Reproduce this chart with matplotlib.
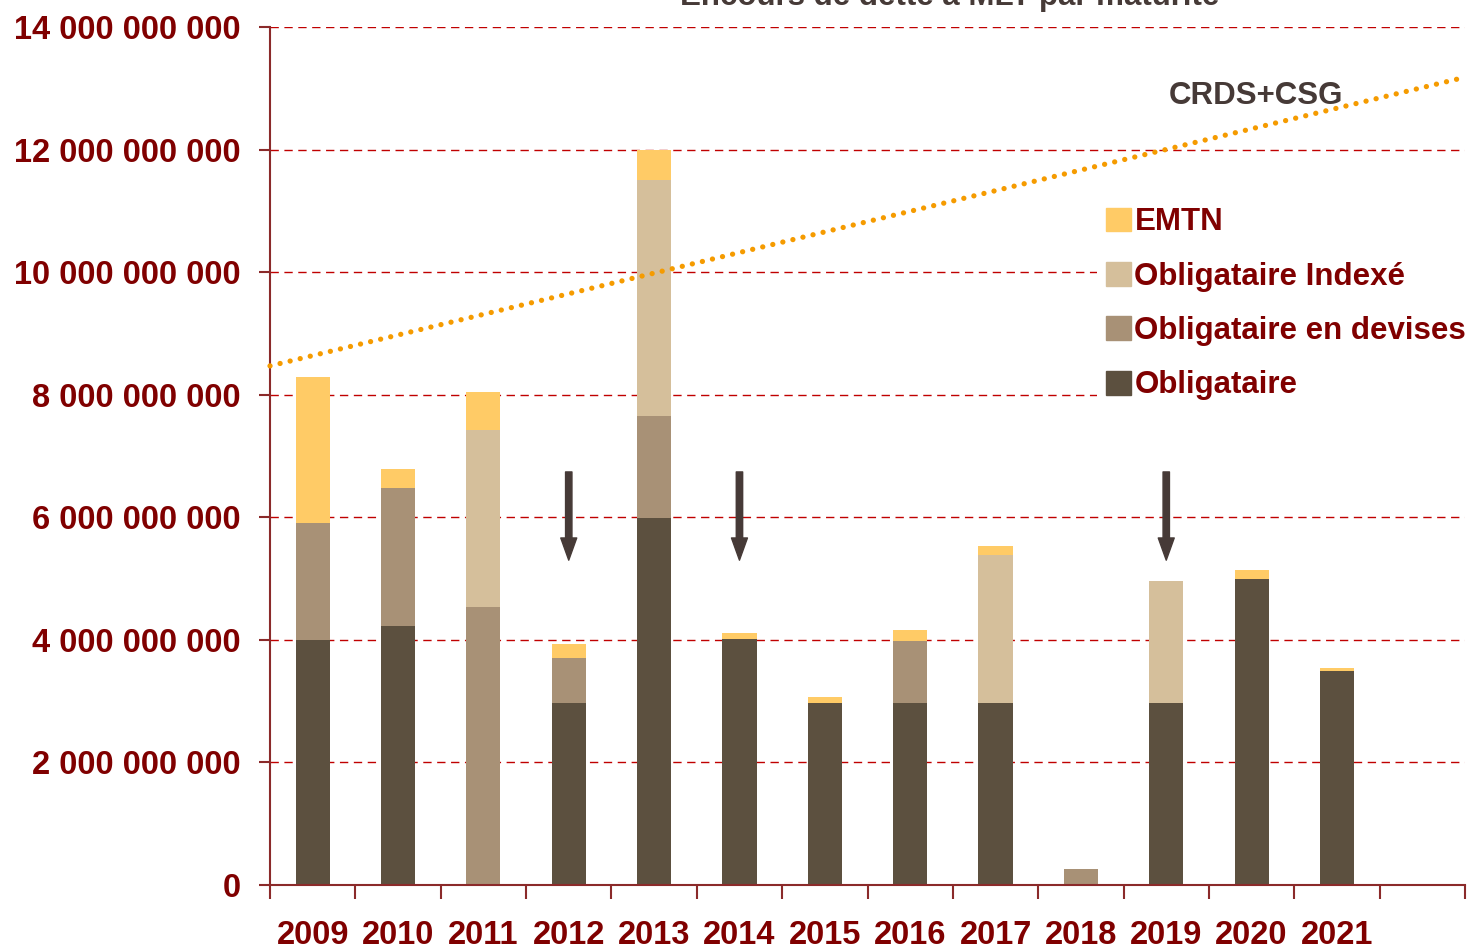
import matplotlib
matplotlib.use("Agg")
import matplotlib.pyplot as plt
import numpy as np
from matplotlib.patches import Patch

# ---- data ----
years = ['2009', '2010', '2011', '2012', '2013', '2014', '2015', '2016',
         '2017', '2018', '2019', '2020', '2021', '']
obligataire = [4.00e9, 4.22e9, 0.0, 2.97e9, 5.99e9, 4.01e9, 2.97e9, 2.97e9,
               2.97e9, 0.0, 2.97e9, 4.99e9, 3.49e9, 0.0]
oblig_devises = [1.90e9, 2.26e9, 4.54e9, 0.73e9, 1.66e9, 0.0, 0.0, 1.01e9,
                 0.0, 0.26e9, 0.0, 0.0, 0.0, 0.0]
oblig_indexe = [0.0, 0.0, 2.88e9, 0.0, 3.85e9, 0.0, 0.0, 0.0,
                2.41e9, 0.0, 1.99e9, 0.0, 0.0, 0.0]
emtn = [2.39e9, 0.31e9, 0.62e9, 0.23e9, 0.49e9, 0.10e9, 0.10e9, 0.18e9,
        0.15e9, 0.0, 0.0, 0.15e9, 0.05e9, 0.0]
crds_csg = [8.47e9, 13.18e9]          # trend line values at left / right edge
arrow_years = ['2012', '2014', '2019']
arrow_from = 6.74e9
arrow_to = 5.30e9
yticks = np.arange(0, 14.01e9, 2e9)

# ---- style ----
c_oblig = '#5C503F'
c_dev = '#A89176'
c_idx = '#D5BF9B'
c_emtn = '#FFCB66'
c_text = '#800000'
c_dark = '#463A37'
c_spine = '#8B2A2A'
c_grid = '#C00000'
plt.rcParams['font.family'] = ['Liberation Sans', 'DejaVu Sans']
fs = 23.5
fs_leg = 22.5

fig = plt.figure(figsize=(14.7, 9.49), dpi=100)
ax = fig.add_axes([270/1470, (949-885)/949, (1465-270)/1470, (885-27)/949])

x = np.arange(len(years))
w = 0.4
b1 = np.array(obligataire)
b2 = b1 + np.array(oblig_devises)
b3 = b2 + np.array(oblig_indexe)
ax.bar(x, obligataire, w, color=c_oblig, zorder=2)
ax.bar(x, oblig_devises, w, bottom=b1, color=c_dev, zorder=2)
ax.bar(x, oblig_indexe, w, bottom=b2, color=c_idx, zorder=2)
ax.bar(x, emtn, w, bottom=b3, color=c_emtn, zorder=2)

ax.set_xlim(-0.5, len(years) - 0.5)
ax.set_ylim(0, 14e9)

# grid
for yv in yticks[1:]:
    ax.axhline(yv, color=c_grid, lw=1.0, ls=(0, (6, 4)), zorder=1)

# trend line
ax.plot([-0.5, len(years) - 0.5], crds_csg, color='#F59B00', lw=3.8,
        ls=(0, (0.01, 1.95)), dash_capstyle='round', zorder=3, clip_on=False)
ax.text(11.05, 12.88e9, 'CRDS+CSG', color=c_dark, fontsize=fs_leg,
        fontweight='bold', ha='center', va='center')

# arrows
for yr in arrow_years:
    xi = years.index(yr)
    ax.annotate('', xy=(xi, arrow_to), xytext=(xi, arrow_from),
                arrowprops=dict(width=4.6, headwidth=11.5, headlength=16,
                                color=c_dark, shrink=0), zorder=4)

# axes styling
for s in ['top', 'right']:
    ax.spines[s].set_visible(False)
for s in ['left', 'bottom']:
    ax.spines[s].set_color(c_spine)
    ax.spines[s].set_linewidth(1.5)

ax.set_yticks(yticks)
ax.set_yticklabels([f"{int(v):,}".replace(',', ' ') for v in yticks])
ax.tick_params(axis='y', length=8, width=1.5, color=c_spine, pad=13,
               labelsize=fs, labelcolor=c_text)
for lab in ax.get_yticklabels():
    lab.set_fontweight('bold')

ax.set_xticks(x)
ax.set_xticklabels(years)
ax.tick_params(axis='x', which='major', length=0, pad=25, labelsize=fs,
               labelcolor=c_text)
for lab in ax.get_xticklabels():
    lab.set_fontweight('bold')
ax.set_xticks(np.arange(-0.5, len(years)), minor=True)
ax.tick_params(axis='x', which='minor', length=10, width=1.5, color=c_spine)

# legend
handles = [Patch(color=c_emtn, label='EMTN'),
           Patch(color=c_idx, label='Obligataire Indexé'),
           Patch(color=c_dev, label='Obligataire en devises'),
           Patch(color=c_oblig, label='Obligataire')]
leg = ax.legend(handles=handles, loc='upper left',
                bbox_to_anchor=(1097/1470, (949-198)/949),
                bbox_transform=fig.transFigure,
                frameon=True, fancybox=False, framealpha=1,
                edgecolor='none', facecolor='white',
                handlelength=0.8, handleheight=0.8, handletextpad=0.1,
                labelspacing=0.78, borderpad=0.3, borderaxespad=0,
                prop={'size': fs_leg, 'weight': 'bold'})
leg.set_zorder(5)
for t in leg.get_texts():
    t.set_color(c_text)

# title (cut at top as in the reference)
fig.text(950/1470, 1 - 5/949, 'Encours de dette à MLT par maturité',
         ha='center', va='baseline', fontsize=fs_leg, fontweight='bold',
         color=c_dark)

fig.savefig('out.png', dpi=100)
